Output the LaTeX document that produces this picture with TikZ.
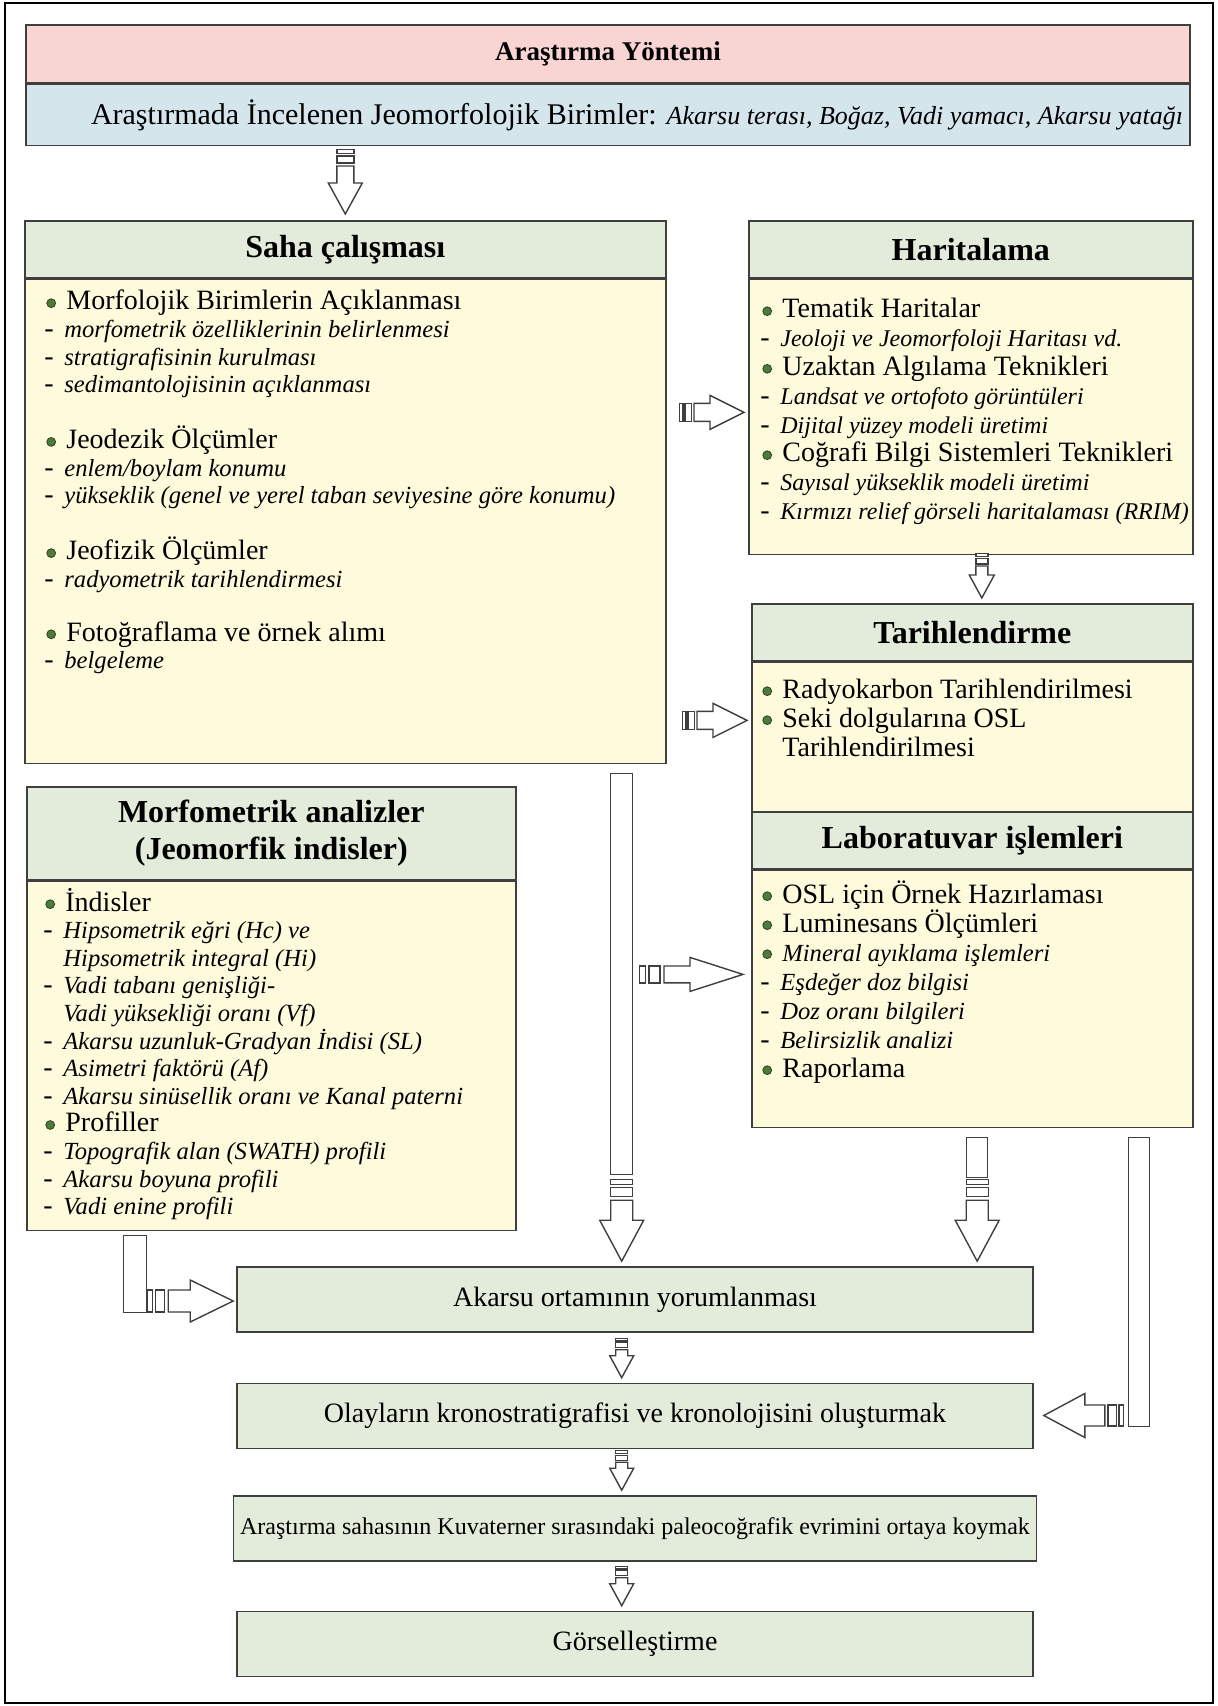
\documentclass[tikz,border=0pt]{standalone}
\usepackage{fontspec}
\setmainfont{Liberation Serif}
\usetikzlibrary{positioning, calc}
\definecolor{titlec}{HTML}{F8D4D3}
\definecolor{subc}{HTML}{D4E5EC}
\definecolor{headc}{HTML}{E3ECDA}
\definecolor{bodyc}{HTML}{FEFADC}
\definecolor{dotc}{HTML}{4E7B3B}
\definecolor{edgec}{HTML}{3F3F3F}
\newcommand{\isz}{12.3}
\newcommand{\dotmark}{\tikz[baseline=-3.4pt]\draw[fill=dotc, draw=dotc!55!black,
  line width=0.4pt] (0,0) circle (2.2pt);}
\newcommand{\itm}[1]{\makebox[11pt][l]{\hspace{1pt}\dotmark}{#1}}
\newcommand{\itmc}[1]{\makebox[11pt][l]{}{#1}}
\newcommand{\ditm}[1]{\makebox[10pt][l]{-}{\itshape\fontsize{\isz}{14}\selectfont #1}}
\newcommand{\ditmc}[1]{\makebox[10pt][l]{}{\itshape\fontsize{\isz}{14}\selectfont #1}}
\newcommand{\panel}[6]{%
  \node[panelhead, minimum width=#3, minimum height=#4] (#1h) at #2 {#6};
  \node[panelbody, minimum width=#3, minimum height=#5] (#1b) at (#1h.south west) {};
}
\newcommand{\fatarrow}[7]{%
  \begin{scope}[shift={#1}, rotate=#2]
    \draw[arrowline] (0,0) -- (-#4,#5) -- (-#4,#6) -- (-#3,#6) -- (-#3,-#6)
      -- (-#4,-#6) -- (-#4,-#5) -- cycle;
    \draw[arrowline] ({-#3-0.7*#7},#6) rectangle ({-#3-2.5*#7},-#6);
    \draw[arrowline] ({-#3-3.1*#7},#6) rectangle ({-#3-4.1*#7},-#6);
  \end{scope}
}
\AtBeginDocument{\lineskiplimit=-50pt\lineskip=0pt}

\begin{document}
\begin{tikzpicture}[x=1pt, y=-1pt,
    boxline/.style={draw=edgec, line width=0.8pt},
    titlebox/.style={boxline, fill=titlec, minimum width=582pt, minimum height=29pt,
      font=\fontsize{13.5}{16}\selectfont\bfseries},
    subbox/.style={boxline, fill=subc, minimum width=582pt, minimum height=30.5pt,
      inner xsep=3.5pt, text width=575pt, align=flush right,
      font=\fontsize{15}{18}\selectfont},
    panelhead/.style={boxline, fill=headc, anchor=north west, align=center,
      font=\fontsize{16}{18.5}\selectfont\bfseries},
    panelbody/.style={boxline, fill=bodyc, anchor=north west},
    flowbox/.style={boxline, fill=headc, minimum width=398pt, minimum height=32.5pt,
      font=\fontsize{14}{16}\selectfont},
    itemlist/.style={anchor=base west, inner sep=0pt, align=flush left, text width=300pt},
    barbox/.style={draw=edgec, line width=0.7pt, fill=white, inner sep=0pt,
      anchor=north west},
    arrowline/.style={draw=edgec, line width=0.7pt, fill=white}]
  \useasboundingbox (0,0) rectangle (608.5,853);
  \draw[line width=0.8pt] (2.5,1.5) rectangle (606.5,851.5);

  \node[titlebox] (baslik) at (304,27) {Araştırma Yöntemi};
  \node[subbox, anchor=north] (birim) at (baslik.south) {Araştırmada İncelenen
    Jeomorfolojik Birimler: {\itshape\fontsize{13}{18}\selectfont Akarsu terası, Boğaz,
    Vadi yamacı, Akarsu yatağı}};

  \panel{saha}{(12,110)}{320.5pt}{28.5pt}{242pt}{Saha çalışması}
  \panel{harita}{(374,110)}{222pt}{28.5pt}{137.5pt}{Haritalama}
  \panel{tarih}{(375.5,301.5)}{220.5pt}{28.5pt}{75.5pt}{Tarihlendirme}
  \panel{lab}{(375.5,405.5)}{220.5pt}{28.5pt}{128.5pt}{Laboratuvar işlemleri}
  \panel{morfo}{(13,393)}{244.5pt}{46.5pt}{174.5pt}{Morfometrik analizler\\(Jeomorfik indisler)}

  \node[itemlist, font=\fontsize{14}{13.8}\selectfont] (sahat) at (22,155) {%
    \itm{Morfolojik Birimlerin Açıklanması}\\
    \ditm{morfometrik özelliklerinin belirlenmesi}\\
    \ditm{stratigrafisinin kurulması}\\
    \ditm{sedimantolojisinin açıklanması}\\[13pt]
    \itm{Jeodezik Ölçümler}\\
    \ditm{enlem/boylam konumu}\\
    \ditm{yükseklik (genel ve yerel taban seviyesine göre konumu)}\\[13pt]
    \itm{Jeofizik Ölçümler}\\
    \ditm{radyometrik tarihlendirmesi}\\[13pt]
    \itm{Fotoğraflama ve örnek alımı}\\
    \ditm{belgeleme}};
  \node[itemlist, font=\fontsize{14}{14.4}\selectfont\def\isz{12}] (haritat) at (380,159) {%
    \itm{Tematik Haritalar}\\
    \ditm{Jeoloji ve Jeomorfoloji Haritası vd.}\\
    \itm{Uzaktan Algılama Teknikleri}\\
    \ditm{Landsat ve ortofoto görüntüleri}\\
    \ditm{Dijital yüzey modeli üretimi}\\
    \itm{Coğrafi Bilgi Sistemleri Teknikleri}\\
    \ditm{Sayısal yükseklik modeli üretimi}\\
    \ditm{Kırmızı relief görseli haritalaması (RRIM)}};
  \node[itemlist, font=\fontsize{14}{14.5}\selectfont] (tariht) at (380,349) {%
    \itm{Radyokarbon Tarihlendirilmesi}\\
    \itm{Seki dolgularına OSL}\\
    \itmc{Tarihlendirilmesi}};
  \node[itemlist, font=\fontsize{14}{14.5}\selectfont] (labt) at (380,451.5) {%
    \itm{OSL için Örnek Hazırlaması}\\
    \itm{Luminesans Ölçümleri}\\
    \itm{\itshape\fontsize{\isz}{14}\selectfont Mineral ayıklama işlemleri}\\
    \ditm{Eşdeğer doz bilgisi}\\
    \ditm{Doz oranı bilgileri}\\
    \ditm{Belirsizlik analizi}\\
    \itm{Raporlama}};
  \node[itemlist, font=\fontsize{14}{13.8}\selectfont] (morfot) at (21.5,455.5) {%
    \itm{İndisler}\\
    \ditm{Hipsometrik eğri (Hc) ve}\\
    \ditmc{Hipsometrik integral (Hi)}\\
    \ditm{Vadi tabanı genişliği-}\\
    \ditmc{Vadi yüksekliği oranı (Vf)}\\
    \ditm{Akarsu uzunluk-Gradyan İndisi (SL)}\\
    \ditm{Asimetri faktörü (Af)}\\
    \ditm{Akarsu sinüsellik oranı ve Kanal paterni}\\
    \itm{Profiller}\\
    \ditm{Topografik alan (SWATH) profili}\\
    \ditm{Akarsu boyuna profili}\\
    \ditm{Vadi enine profili}};

  \node[flowbox] (akarsu) at (317.5,649.75) {Akarsu ortamının yorumlanması};
  \node[flowbox] (olaylar) at (317.5,708) {Olayların kronostratigrafisi ve kronolojisini oluşturmak};
  \node[flowbox, font=\fontsize{12}{14}\selectfont] (paleo) at (317.5,764.25)
    {Araştırma sahasının Kuvaterner sırasındaki paleocoğrafik evrimini ortaya koymak};
  \node[flowbox] (gorsel) at (317.5,822) {Görselleştirme};

  \node[barbox, minimum width=11pt, minimum height=200.5pt] (sahabar) at (305,386.5) {};
  \node[barbox, minimum width=10.5pt, minimum height=20pt] (labbar) at (483,568.5) {};
  \node[barbox, minimum width=10.5pt, minimum height=144.5pt] (rightbar) at (564,568.5) {};
  \node[barbox, minimum width=11.5pt, minimum height=38.5pt] (leftbar) at (61.5,617.5) {};

  \fatarrow{($(sahah.north)+(0,-3)$)}{-90}{24}{15.5}{8.5}{4.25}{2}
  \fatarrow{($(haritab.west)+(-2,-2.25)$)}{0}{25}{17}{8.5}{4.5}{1.8}
  \fatarrow{($(tarihb.west)+(-2,-8.75)$)}{0}{25}{17}{8.5}{4.5}{1.8}
  \fatarrow{($(tarihh.north)+(4.75,-2.5)$)}{-90}{16}{11.5}{6.25}{3}{1.5}
  \fatarrow{($(labb.west)+(-4,-12.25)$)}{0}{39.5}{26.5}{8.5}{4.2}{3}
  \fatarrow{($(sahabar.south |- akarsu.north)+(0,-2.5)$)}{-90}{30.5}{20.5}{11}{5.5}{2.5}
  \fatarrow{($(labbar.south |- akarsu.north)+(0,-2.5)$)}{-90}{30.5}{20.5}{11}{5.5}{2.5}
  \fatarrow{($(olaylar.east)+(5,-0.25)$)}{180}{30.5}{20.5}{11}{5.25}{2.3}
  \fatarrow{($(akarsu.west)+(-1.5,0.75)$)}{0}{32.5}{21.5}{10.5}{5.5}{2.5}
  \fatarrow{($(olaylar.north -| sahabar.south)+(0,-2.5)$)}{-90}{14}{11}{6}{3}{1.4}
  \fatarrow{($(paleo.north -| sahabar.south)+(0,-2.5)$)}{-90}{14}{11}{6}{3}{1.4}
  \fatarrow{($(gorsel.north -| sahabar.south)+(0,-2.5)$)}{-90}{14}{11}{6}{3}{1.4}
\end{tikzpicture}
\end{document}
